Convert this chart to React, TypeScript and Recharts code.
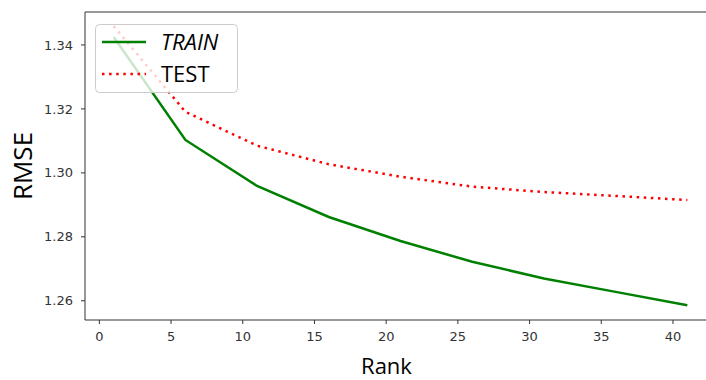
import { LineChart, Line, XAxis, YAxis, Legend, Label, ReferenceLine } from "recharts";

const ranks = [1, 6, 11, 16, 21, 26, 31, 36, 41];
const trainRmse = [1.3425, 1.3103, 1.2959, 1.2862, 1.2787, 1.2722, 1.267, 1.2628, 1.2586];
const testRmse = [1.3459, 1.3191, 1.3085, 1.3027, 1.2988, 1.2957, 1.294, 1.2928, 1.2915];
const xTicks = [0, 5, 10, 15, 20, 25, 30, 35, 40];
const yTicks = [1.26, 1.28, 1.3, 1.32, 1.34];

const data = ranks.map((r, i) => ({ rank: r, train: trainRmse[i], test: testRmse[i] }));

const FONT = "DejaVu Sans";
const LABEL_FONT = "Open Sans";
const Y_MAX = 1.3503;

function LegendBox() {
  return (
    <svg width={143} height={69} style={{ display: "block" }}>
      <rect x={0.5} y={0.5} width={142} height={68} rx={4} fill="rgba(255,255,255,0.8)" stroke="#cccccc" />
      <line x1={7} y1={18} x2={51} y2={18} stroke="#008000" strokeWidth={2.5} />
      <text x={66} y={26} fontFamily={LABEL_FONT} fontSize={22} fontStyle="italic" fill="#000">TRAIN</text>
      <line x1={7} y1={50} x2={51} y2={50} stroke="#ff0000" strokeWidth={2.5} strokeDasharray="2.5 4.6" />
      <text x={66} y={58} fontFamily={LABEL_FONT} fontSize={22} fill="#000">TEST</text>
    </svg>
  );
}

export default function App() {
  return (
    <div style={{ position: "fixed", left: 0, top: 0, width: 706, height: 380, overflow: "hidden", background: "#fff" }}>
      <LineChart width={716} height={380} data={data} margin={{ top: 12, right: 0, bottom: 0, left: 0 }}>
        <XAxis
          dataKey="rank"
          type="number"
          domain={[-1, 43]}
          ticks={xTicks}
          height={60}
          tickSize={4}
          tickMargin={8}
          stroke="#333"
          tick={{ fill: "#333", fontSize: 13, fontFamily: FONT }}
        >
          <Label value="Rank" position="insideBottom" offset={6} dx={-14} style={{ fontSize: 22, fontFamily: LABEL_FONT, fill: "#000" }} />
        </XAxis>
        <YAxis
          type="number"
          domain={[1.254, Y_MAX]}
          ticks={yTicks}
          width={85}
          tickSize={4}
          tickMargin={8}
          stroke="#333"
          tickFormatter={(v: number) => v.toFixed(2)}
          tick={{ fill: "#333", fontSize: 13, fontFamily: FONT }}
          allowDataOverflow
        >
          <Label value="RMSE" angle={-90} position="insideLeft" offset={23} style={{ fontSize: 26, fontFamily: LABEL_FONT, fill: "#000", textAnchor: "middle" }} />
        </YAxis>
        <ReferenceLine y={Y_MAX} stroke="#333" strokeWidth={1} ifOverflow="visible" />
        <Line dataKey="train" stroke="#008000" strokeWidth={2.5} dot={false} isAnimationActive={false} />
        <Line dataKey="test" stroke="#ff0000" strokeWidth={2.5} strokeDasharray="2.5 4.6" dot={false} isAnimationActive={false} />
        <Legend
          layout="vertical"
          align="center"
          verticalAlign="middle"
          content={() => <LegendBox />}
          wrapperStyle={{ left: 95, top: 24, width: 143, height: 69 }}
        />
      </LineChart>
    </div>
  );
}
